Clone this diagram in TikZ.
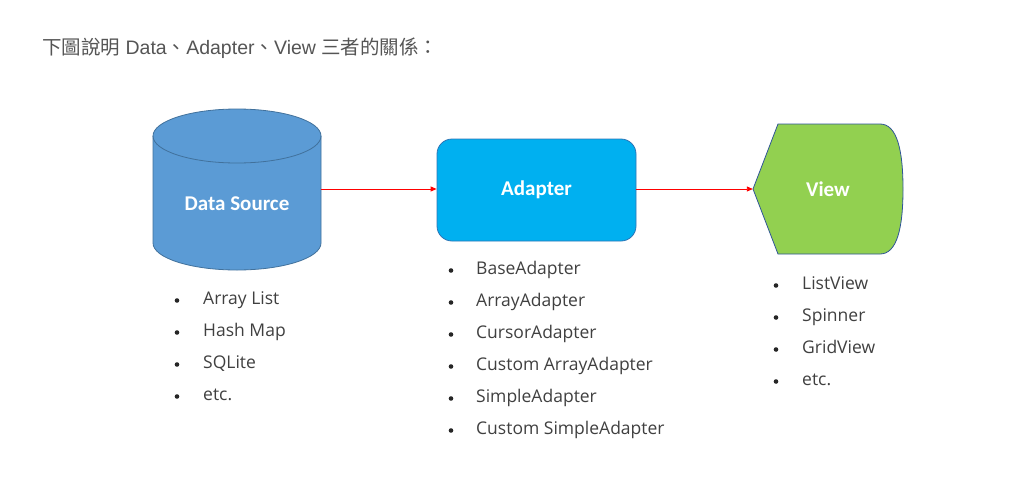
\documentclass[tikz,border=0pt]{standalone}
\usepackage{fontspec}
\setmainfont{Liberation Sans}
\newfontfamily\cjk{Noto Sans CJK TC}
\newfontfamily\listfont{Open Sans}
\newfontfamily\shapefont{Carlito}
\usetikzlibrary{arrows.meta}
\definecolor{dsfill}{HTML}{5B9BD5}
\definecolor{dsline}{HTML}{41719C}
\definecolor{adfill}{HTML}{00B0F0}
\definecolor{adline}{HTML}{2E75B6}
\definecolor{vwfill}{HTML}{92D050}
\definecolor{vwline}{HTML}{2F5597}
\definecolor{listtext}{HTML}{404040}
\definecolor{headtext}{HTML}{555555}
\begin{document}
\begin{tikzpicture}[x=1pt,y=-1pt,
  shapelabel/.style={text=white,font=\shapefont\bfseries\fontsize{21}{25}\selectfont,inner sep=0pt},
  listitem/.style={anchor=base west,text=listtext,font=\listfont\fontsize{17.5}{20}\selectfont,inner sep=0pt},
  bulletmark/.style={circle,fill=black!85,inner sep=0pt,minimum size=4.6pt},
  flow/.style={draw=red,line width=0.9pt,-{Triangle[length=6pt,width=5pt]}}]
\fill[white] (0,0) rectangle (1012,488);
\useasboundingbox (0,0) rectangle (1012,488);
% header
\node[anchor=base west,inner sep=0pt,text=headtext,font=\fontsize{19.5}{22}\selectfont] (head) at (42,54)
  {{\cjk 下圖說明} Data{\cjk 、}Adapter{\cjk 、}View {\cjk 三者的關係：}};
% cylinder (Data Source)
\filldraw[fill=dsfill,draw=dsline,line width=0.8pt]
  (153,136) -- (153,243) arc[start angle=180,end angle=0,x radius=84,y radius=27] -- (321,136)
  arc[start angle=0,end angle=-180,x radius=84,y radius=27] -- cycle;
\draw[dsline,line width=0.8pt] (153,136) arc[start angle=180,end angle=0,x radius=84,y radius=27];
\node[minimum width=168pt,minimum height=160pt,inner sep=0pt] (ds) at (237,189) {};
\node[shapelabel] (dslabel) at (237,204) {Data Source};
% adapter
\node[draw=adline,fill=adfill,line width=0.8pt,rounded corners=15pt,minimum width=199pt,minimum height=102pt,inner sep=0pt,shapelabel] (ad) at (536.5,190) {Adapter};
% view
\filldraw[fill=vwfill,draw=vwline,line width=0.8pt]
  (753,189) -- (778,124) -- (880,124) .. controls (897,124) and (903,150) .. (903,189)
  .. controls (903,228) and (897,254) .. (880,254) -- (778,254) -- cycle;
\node[minimum width=150pt,minimum height=130pt,inner sep=0pt,shapelabel] (vw) at (828,189) {View};
% connectors
\draw[flow] (ds.east) -- (ad.west |- ds.east);
\draw[flow] (ad.east |- vw.west) -- (vw.west);
% data source list
\foreach \t [count=\i] in {Array List,Hash Map,SQLite,etc.}{
  \node[bulletmark] (dsb\i) at (177,{300.5+32*(\i-1)}) {};
  \node[listitem] (dsl\i) at (203,{304.5+32*(\i-1)}) {\t};
}
% adapter list
\foreach \t [count=\i] in {BaseAdapter,ArrayAdapter,CursorAdapter,Custom ArrayAdapter,SimpleAdapter,Custom SimpleAdapter}{
  \node[bulletmark] (adb\i) at (451,{270.5+32*(\i-1)}) {};
  \node[listitem] (adl\i) at (476,{274.5+32*(\i-1)}) {\t};
}
% view list
\foreach \t [count=\i] in {ListView,Spinner,GridView,etc.}{
  \node[bulletmark] (vwb\i) at (776,{285.5+32*(\i-1)}) {};
  \node[listitem] (vwl\i) at (802,{289.5+32*(\i-1)}) {\t};
}
\end{tikzpicture}
\end{document}
